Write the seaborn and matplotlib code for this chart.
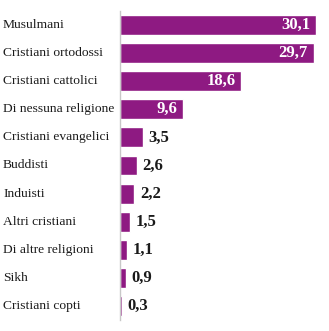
import matplotlib
matplotlib.use("Agg")
import matplotlib.pyplot as plt
import matplotlib.transforms as mtransforms
import seaborn as sns
import pandas as pd

categories = ["Musulmani", "Cristiani ortodossi", "Cristiani cattolici",
              "Di nessuna religione", "Cristiani evangelici", "Buddisti",
              "Induisti", "Altri cristiani", "Di altre religioni", "Sikh",
              "Cristiani copti"]
values = [30.1, 29.7, 18.6, 9.6, 3.5, 2.6, 2.2, 1.5, 1.1, 0.9, 0.3]
value_labels = ["30,1", "29,7", "18,6", "9,6", "3,5", "2,6", "2,2", "1,5", "1,1", "0,9", "0,3"]

sns.set_theme(style="white")
plt.rcParams["font.family"] = ["Liberation Serif", "DejaVu Serif"]

df = pd.DataFrame({"cat": categories, "val": values})

fig = plt.figure(figsize=(3.29, 3.31), dpi=100)
ax = fig.add_axes([120 / 329, 11 / 331, 202 / 329, 309 / 331])
purple = "#8E1A82"
sns.barplot(data=df, x="val", y="cat", orient="h", color=purple,
            saturation=1, width=0.71, ax=ax, order=categories)

ax.set_xlim(0, 31)
ax.set_ylim(len(categories) - 0.5, -0.5)
ax.set_xlabel("")
ax.set_ylabel("")
ax.set_xticks([])
ax.set_yticks([])
for s in ["top", "right", "bottom"]:
    ax.spines[s].set_visible(False)
ax.spines["left"].set_color("#c8c8c8")
ax.spines["left"].set_linewidth(1.0)

trans = mtransforms.blended_transform_factory(fig.transFigure, ax.transData)
for i, c in enumerate(categories):
    ax.text(3 / 329, i, c, transform=trans, ha="left", va="center",
            fontsize=9.7, color="#1a1a1a")

inside_thr = 9
for i, (v, lab) in enumerate(zip(values, value_labels)):
    if v >= inside_thr:
        ax.annotate(lab, (v, i), xytext=(-4, 0), textcoords="offset points",
                    ha="right", va="center", color="white",
                    fontsize=12, fontweight="bold")
    else:
        ax.annotate(lab, (v, i), xytext=(4, 0), textcoords="offset points",
                    ha="left", va="center", color="#1a1a1a",
                    fontsize=12, fontweight="bold")

fig.savefig("out.png", dpi=100)
